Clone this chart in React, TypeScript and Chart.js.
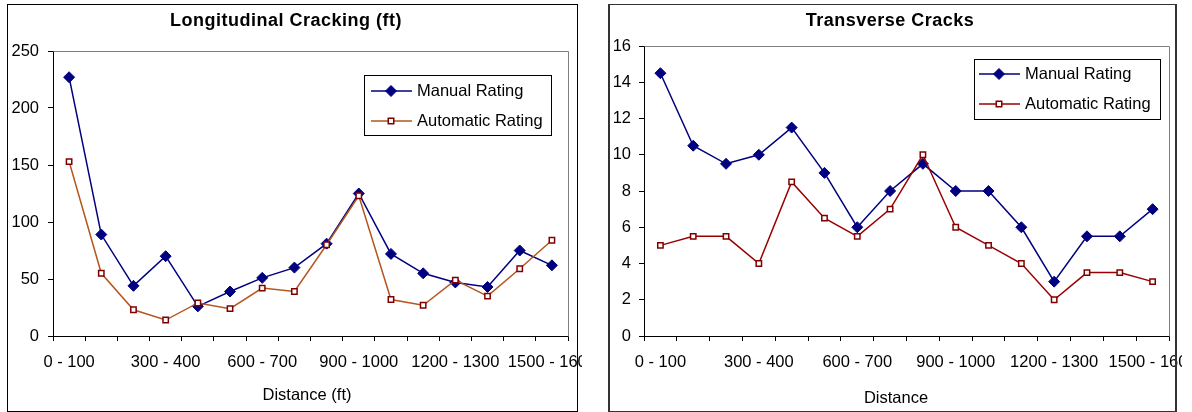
import React, { useEffect, useRef } from "react";
import { Chart, registerables } from "chart.js";

Chart.register(...registerables);

// ---------- data ----------
const categories = [
  "0 - 100", "100 - 200", "200 - 300", "300 - 400", "400 - 500", "500 - 600",
  "600 - 700", "700 - 800", "800 - 900", "900 - 1000", "1000 - 1100", "1100 - 1200",
  "1200 - 1300", "1300 - 1400", "1400 - 1500", "1500 - 1600",
];
const shownXLabels = ["0 - 100", "300 - 400", "600 - 700", "900 - 1000", "1200 - 1300", "1500 - 1600"];
const seriesNames = ["Manual Rating", "Automatic Rating"];

const longTitle = "Longitudinal Cracking (ft)";
const longAxisTitle = "Distance (ft)";
const longYTicks = [0, 50, 100, 150, 200, 250];
const longManual = [227, 89, 44, 70, 26, 39, 51, 60, 81, 125, 72, 55, 47, 43, 75, 62];
const longAuto = [153, 55, 23, 14, 29, 24, 42, 39, 80, 123, 32, 27, 49, 35, 59, 84];

const transTitle = "Transverse Cracks";
const transAxisTitle = "Distance";
const transYTicks = [0, 2, 4, 6, 8, 10, 12, 14, 16];
const transManual = [14.5, 10.5, 9.5, 10, 11.5, 9, 6, 8, 9.5, 8, 8, 6, 3, 5.5, 5.5, 7];
const transAuto = [5, 5.5, 5.5, 4, 8.5, 6.5, 5.5, 7, 10, 6, 5, 4, 2, 3.5, 3.5, 3];

// ---------- styling ----------
const FONT = '"Liberation Sans", Arial, Helvetica, sans-serif';
const FS = 16.5;
const MANUAL_COLOR = "#000080";
const AUTO_MARKER = "#800000";

type Spec = {
  left: number;
  top: number;
  boxW: number;
  boxH: number;
  clipW: number;
  border: React.CSSProperties;
  canvasX: number;
  canvasY: number;
  canvasW: number;
  canvasH: number;
  plotLeft: number;
  plotTop: number;
  plotRight: number;
  plotBottom: number;
  yTickPad: number;
  title: string;
  titleX: number;
  titleY: number;
  axisTitle: string;
  axisX: number;
  axisY: number;
  legend: { x: number; y: number; w: number; h: number; l1: number; l2: number; mx: number; tx: number; r1: number; r2: number };
  yTicks: number[];
  manual: number[];
  auto: number[];
  autoLine: string;
};

function diamond(ctx: CanvasRenderingContext2D, x: number, y: number, r: number, color: string) {
  ctx.beginPath();
  ctx.moveTo(x - r, y);
  ctx.lineTo(x, y - r);
  ctx.lineTo(x + r, y);
  ctx.lineTo(x, y + r);
  ctx.closePath();
  ctx.fillStyle = color;
  ctx.fill();
  ctx.strokeStyle = color;
  ctx.lineWidth = 1;
  ctx.stroke();
}

function square(ctx: CanvasRenderingContext2D, x: number, y: number, half: number) {
  ctx.fillStyle = "#ffffff";
  ctx.fillRect(x - half, y - half, half * 2, half * 2);
  ctx.strokeStyle = AUTO_MARKER;
  ctx.lineWidth = 1.5;
  ctx.strokeRect(x - half, y - half, half * 2, half * 2);
}

function makeDecor(spec: Spec) {
  return {
    id: "decor",
    beforeDatasetsDraw(chart: any) {
      const { ctx, chartArea: a } = chart;
      ctx.save();
      ctx.strokeStyle = "#808080";
      ctx.lineWidth = 1;
      const l = Math.floor(a.left) + 0.5;
      const t = Math.floor(a.top) + 0.5;
      const r = Math.floor(a.right) + 0.5;
      const b = Math.floor(a.bottom) + 0.5;
      ctx.beginPath();
      ctx.moveTo(l, t);
      ctx.lineTo(r, t);
      ctx.lineTo(r, b);
      ctx.stroke();
      ctx.restore();
    },
    afterDraw(chart: any) {
      const { ctx } = chart;
      ctx.save();
      ctx.fillStyle = "#000";
      ctx.textAlign = "center";
      ctx.textBaseline = "middle";
      ctx.font = `bold 18px ${FONT}`;
      (ctx as any).letterSpacing = "0.5px";
      ctx.fillText(spec.title, spec.titleX, spec.titleY);
      (ctx as any).letterSpacing = "0px";
      ctx.font = `${FS}px ${FONT}`;
      ctx.fillText(spec.axisTitle, spec.axisX, spec.axisY);

      const L = spec.legend;
      ctx.fillStyle = "#fff";
      ctx.fillRect(L.x, L.y, L.w, L.h);
      ctx.strokeStyle = "#000";
      ctx.lineWidth = 1;
      ctx.strokeRect(L.x + 0.5, L.y + 0.5, L.w, L.h);

      ctx.lineWidth = 1.5;
      ctx.strokeStyle = MANUAL_COLOR;
      ctx.beginPath();
      ctx.moveTo(L.l1, L.r1);
      ctx.lineTo(L.l2, L.r1);
      ctx.stroke();
      diamond(ctx, L.mx, L.r1, 5.5, MANUAL_COLOR);

      ctx.lineWidth = 1.5;
      ctx.strokeStyle = spec.autoLine;
      ctx.beginPath();
      ctx.moveTo(L.l1, L.r2);
      ctx.lineTo(L.l2, L.r2);
      ctx.stroke();
      square(ctx, L.mx, L.r2, 2.75);

      ctx.fillStyle = "#000";
      ctx.textAlign = "left";
      ctx.font = `${FS}px ${FONT}`;
      ctx.fillText(seriesNames[0], L.tx, L.r1);
      ctx.fillText(seriesNames[1], L.tx, L.r2);
      ctx.restore();
    },
  };
}

function CrackChart({ spec }: { spec: Spec }) {
  const ref = useRef<HTMLCanvasElement>(null);
  useEffect(() => {
    if (!ref.current) return;
    const yMin = spec.yTicks[0];
    const yMax = spec.yTicks[spec.yTicks.length - 1];
    const yStep = spec.yTicks[1] - spec.yTicks[0];
    const chart = new Chart(ref.current, {
      type: "line",
      data: {
        labels: categories,
        datasets: [
          {
            label: seriesNames[0],
            data: spec.manual,
            borderColor: MANUAL_COLOR,
            backgroundColor: MANUAL_COLOR,
            borderWidth: 1.5,
            pointStyle: "rectRot",
            pointRadius: 5.5,
            pointBorderWidth: 1,
            pointBackgroundColor: MANUAL_COLOR,
            pointBorderColor: MANUAL_COLOR,
            tension: 0,
            clip: false as any,
            order: 1,
          },
          {
            label: seriesNames[1],
            data: spec.auto,
            borderColor: spec.autoLine,
            backgroundColor: "#ffffff",
            borderWidth: 1.5,
            pointStyle: "rect",
            pointRadius: 3.8,
            pointBorderWidth: 1.5,
            pointBackgroundColor: "#ffffff",
            pointBorderColor: AUTO_MARKER,
            tension: 0,
            clip: false as any,
            order: 0,
          },
        ],
      },
      options: {
        responsive: false,
        animation: false,
        devicePixelRatio: 1,
        layout: {
          padding: { left: 0, top: spec.plotTop, right: spec.canvasW - spec.plotRight, bottom: 0 },
        },
        plugins: {
          legend: { display: false },
          title: { display: false },
          tooltip: { enabled: false },
        },
        scales: {
          x: {
            type: "category",
            offset: true,
            grid: {
              offset: true,
              drawOnChartArea: false,
              drawTicks: true,
              tickLength: 5,
              color: "#000",
            },
            border: { display: true, color: "#000", width: 1 },
            ticks: {
              autoSkip: false,
              maxRotation: 0,
              minRotation: 0,
              padding: 12,
              color: "#000",
              font: { family: FONT, size: FS },
              callback: (_v: any, i: number) =>
                shownXLabels.includes(categories[i]) ? categories[i] : "",
            },
            afterFit: (s: any) => {
              s.height = spec.canvasH - spec.plotBottom;
            },
          },
          y: {
            min: yMin,
            max: yMax,
            grid: {
              drawOnChartArea: false,
              drawTicks: true,
              tickLength: 5,
              color: "#000",
            },
            border: { display: true, color: "#000", width: 1 },
            ticks: {
              stepSize: yStep,
              padding: spec.yTickPad,
              color: "#000",
              font: { family: FONT, size: FS },
            },
            afterFit: (s: any) => {
              s.width = spec.plotLeft;
            },
          },
        },
      } as any,
      plugins: [makeDecor(spec)],
    });
    return () => chart.destroy();
  }, [spec]);
  return (
    <div
      style={{
        position: "absolute",
        left: spec.left,
        top: spec.top,
        width: spec.clipW,
        height: spec.boxH,
        overflow: "hidden",
      }}
    >
      <canvas
        ref={ref}
        width={spec.canvasW}
        height={spec.canvasH}
        style={{ position: "absolute", left: spec.canvasX, top: spec.canvasY, width: spec.canvasW, height: spec.canvasH }}
      />
      <div
        style={{
          position: "absolute",
          left: 0,
          top: 0,
          width: spec.boxW,
          height: spec.boxH,
          boxSizing: "border-box",
          pointerEvents: "none",
          ...spec.border,
        }}
      />
    </div>
  );
}

const leftSpec: Spec = {
  left: 7,
  top: 4,
  boxW: 571,
  boxH: 408,
  clipW: 575,
  border: { border: "1px solid #000" },
  canvasX: 1,
  canvasY: 1,
  canvasW: 629,
  canvasH: 406,
  plotLeft: 45,
  plotTop: 46,
  plotRight: 560,
  plotBottom: 331,
  yTickPad: 9,
  title: longTitle,
  titleX: 278,
  titleY: 16,
  axisTitle: longAxisTitle,
  axisX: 299,
  axisY: 390,
  legend: { x: 356, y: 70, w: 187, h: 60, l1: 363, l2: 404, mx: 383, tx: 409, r1: 86, r2: 116 },
  yTicks: longYTicks,
  manual: longManual,
  auto: longAuto,
  autoLine: "#B4561E",
};

const rightSpec: Spec = {
  left: 608,
  top: 4,
  boxW: 569,
  boxH: 408,
  clipW: 574,
  border: { borderStyle: "solid", borderColor: "#333", borderWidth: "1px 2px 1px 2px" },
  canvasX: 2,
  canvasY: 1,
  canvasW: 625,
  canvasH: 406,
  plotLeft: 34,
  plotTop: 41,
  plotRight: 559,
  plotBottom: 331,
  yTickPad: 8,
  title: transTitle,
  titleX: 280,
  titleY: 16,
  axisTitle: transAxisTitle,
  axisX: 286,
  axisY: 393,
  legend: { x: 364, y: 54, w: 186, h: 60, l1: 369, l2: 410, mx: 389, tx: 415, r1: 69, r2: 99 },
  yTicks: transYTicks,
  manual: transManual,
  auto: transAuto,
  autoLine: "#990000",
};

export default function App() {
  return (
    <div style={{ position: "absolute", left: 0, top: 0, width: 1192, height: 412, background: "#fff", overflow: "hidden" }}>
      <CrackChart spec={leftSpec} />
      <CrackChart spec={rightSpec} />
    </div>
  );
}
